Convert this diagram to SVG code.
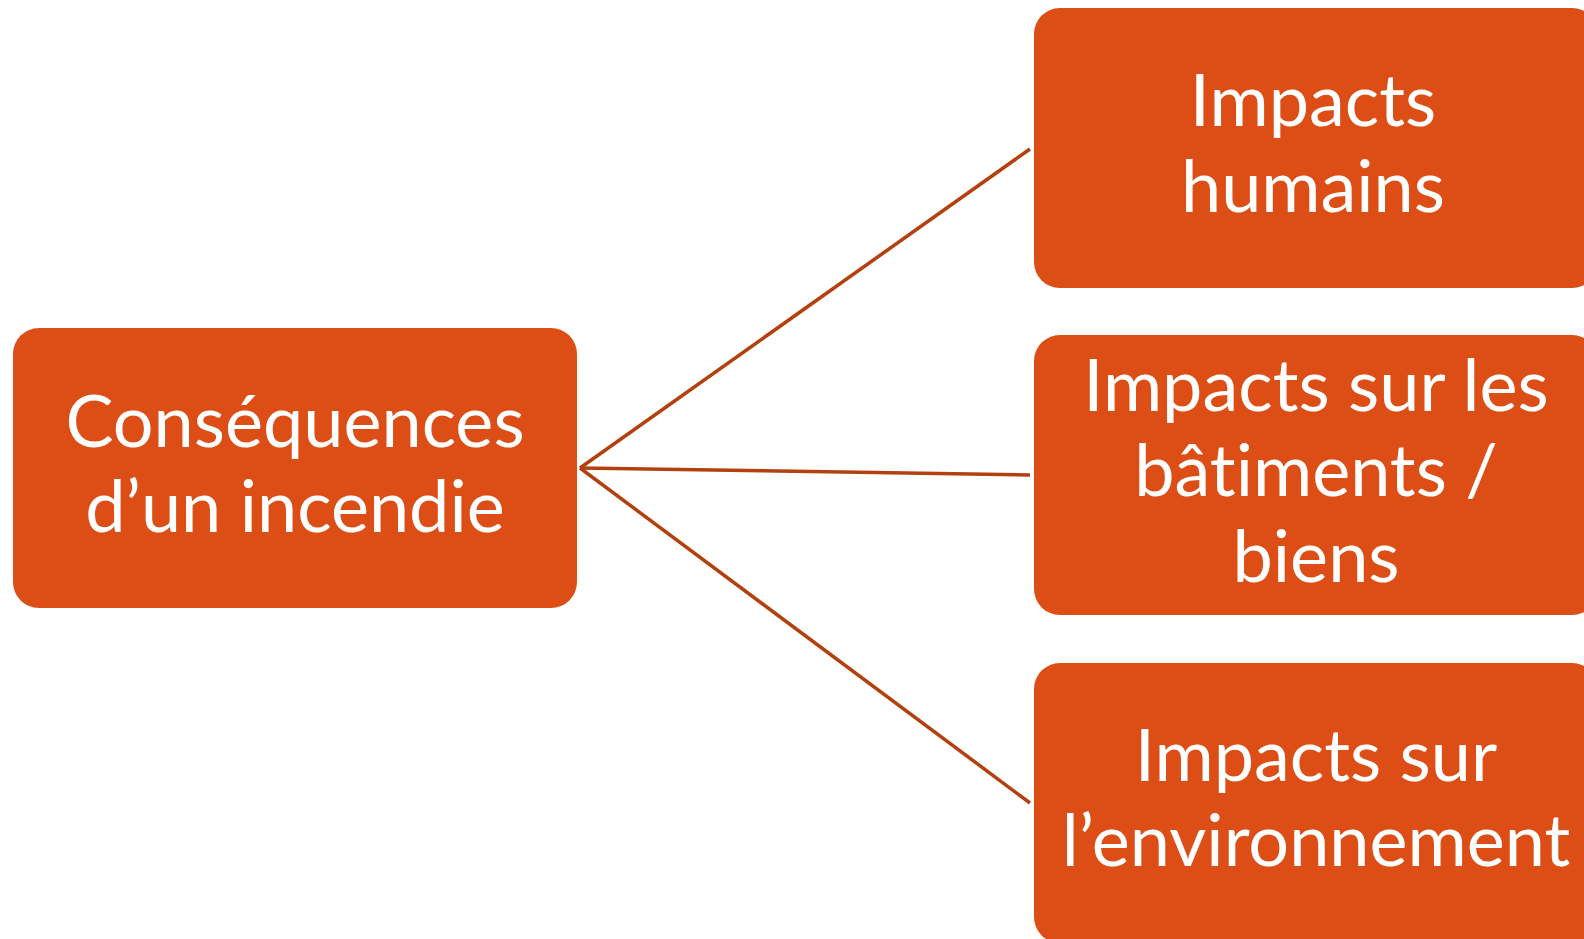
<svg xmlns="http://www.w3.org/2000/svg" width="1584" height="939" viewBox="0 0 1584 939">
  <style>
    .box { fill: #DC4E15; }
    .label { fill: #FFFFFF; font-family: Lato, "Open Sans", "Liberation Sans", sans-serif; font-size: 72px; text-anchor: middle; font-variant-ligatures: none; }
    .link { stroke: #B3400F; stroke-width: 3.5; fill: none; }
  </style>
  <rect width="1584" height="939" fill="#FFFFFF"/>

  <g id="connectors">
    <line class="link" x1="580" y1="468" x2="1030" y2="149"/>
    <line class="link" x1="580" y1="468" x2="1030" y2="475"/>
    <line class="link" x1="580" y1="468" x2="1030" y2="803"/>
  </g>

  <g id="node-consequences">
    <rect class="box" x="13" y="328" width="564" height="280" rx="26"/>
    <text class="label" x="295" y="447">Conséquences</text>
    <text class="label" x="295" y="532">d’un incendie</text>
  </g>

  <g id="node-humains">
    <rect class="box" x="1034" y="8" width="564" height="280" rx="26"/>
    <text class="label" x="1313" y="126">Impacts</text>
    <text class="label" x="1313" y="212">humains</text>
  </g>

  <g id="node-batiments">
    <rect class="box" x="1034" y="335" width="564" height="280" rx="26"/>
    <text class="label" x="1316" y="411">Impacts sur les</text>
    <text class="label" x="1316" y="496">bâtiments /</text>
    <text class="label" x="1316" y="582">biens</text>
  </g>

  <g id="node-environnement">
    <rect class="box" x="1034" y="663" width="564" height="280" rx="26"/>
    <text class="label" x="1316" y="781">Impacts sur</text>
    <text class="label" x="1316" y="866">l’environnement</text>
  </g>
</svg>
